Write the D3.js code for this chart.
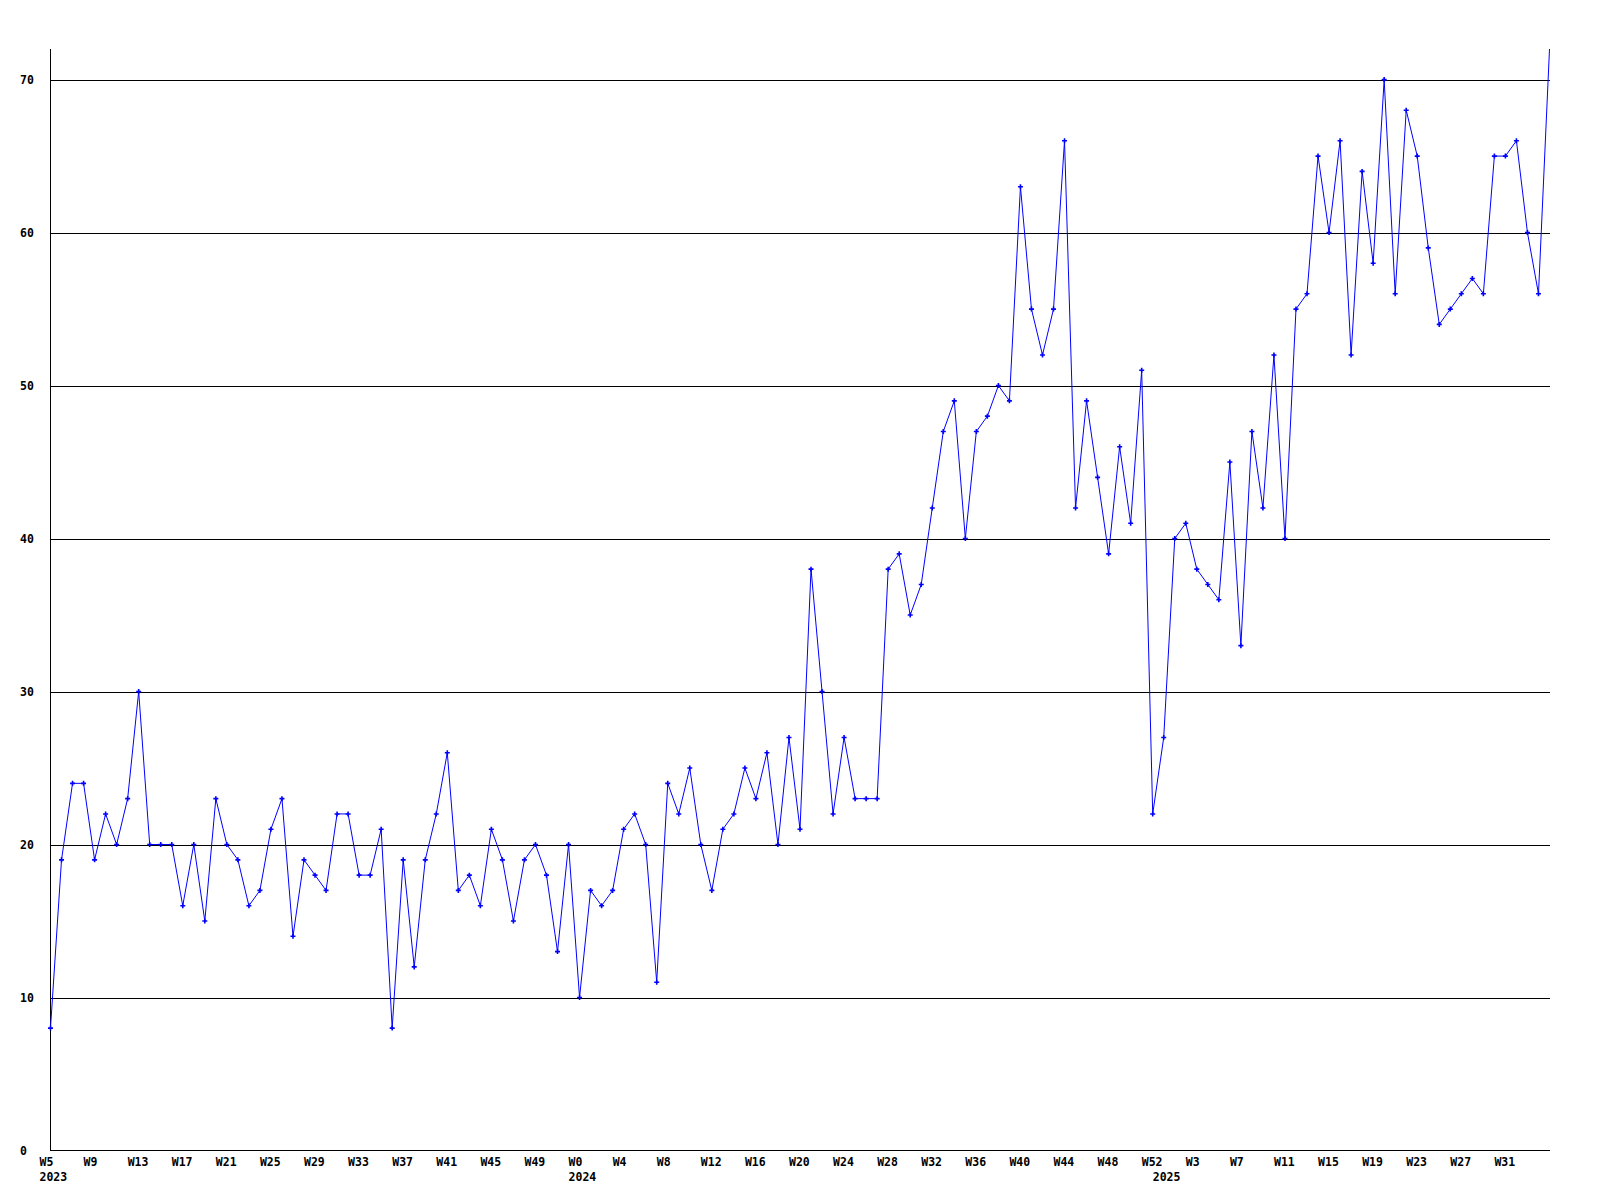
<!DOCTYPE html>
<html>
<head>
<meta charset="utf-8">
<script src="https://cdn.jsdelivr.net/npm/d3@7/dist/d3.min.js"></script>
<style>
  html, body { margin: 0; padding: 0; background: #fff; }
  svg { display: block; }
  text { font-family: "DejaVu Sans Mono", "Liberation Mono", monospace; font-weight: bold; font-size: 11.5px; fill: #000; }
</style>
</head>
<body>
<svg id="chart" width="1600" height="1200"></svg>
<script>
// ---- Data ----
const years2023Weeks = [5, 52];   // first and last week number shown for 2023
const years2024Weeks = [0, 52];
const years2025Weeks = [0, 35];

const values2023 = [8,19,24,24,19,22,20,23,30,20,20,20,16,20,15,23,20,19,16,17,21,23,14,19,18,17,22,22,18,18,21,8,19,12,19,22,26,17,18,16,21,19,15,19,20,18,13,20];
const values2024 = [10,17,16,17,21,22,20,11,24,22,25,20,17,21,22,25,23,26,20,27,21,38,30,22,27,23,23,23,38,39,35,37,42,47,49,40,47,48,50,49,63,55,52,55,66,42,49,44,39,46,41,51,22];
const values2025 = [27,40,41,38,37,36,45,33,47,42,52,40,55,56,65,60,66,52,64,58,70,56,68,65,59,54,55,56,57,56,65,65,66,60,56,72];

const xTickLabels = ["W5","W9","W13","W17","W21","W25","W29","W33","W37","W41","W45","W49",
                     "W0","W4","W8","W12","W16","W20","W24","W28","W32","W36","W40","W44","W48","W52",
                     "W3","W7","W11","W15","W19","W23","W27","W31"];
const yearLabels = ["2023","2024","2025"];
const yTicks = [0,10,20,30,40,50,60,70];
const yMax = 72;

(function () {
  // ---- Build categories ----
  const categories = [];
  [[2023, years2023Weeks, values2023],[2024, years2024Weeks, values2024],[2025, years2025Weeks, values2025]]
    .forEach(([yr, wk, vals]) => {
      vals.forEach((v, i) => categories.push({ year: String(yr), week: "W" + (wk[0] + i), value: v }));
    });
  const idxs = categories.map((d, i) => i);

  // ---- Layout ----
  const svg = d3.select("#chart");
  const pLeft = 50, pRight = 1550, pTop = 49, pBottom = 1150;

  const x = d3.scaleLinear().domain([0, categories.length - 1]).range([pLeft + 0.5, pRight - 0.5]);
  const y = d3.scaleLinear().domain([0, yMax]).range([pBottom + 0.5, pTop]);

  // gridlines
  svg.append("g").selectAll("line").data(yTicks.filter(t => t > 0)).join("line")
    .attr("x1", pLeft).attr("x2", pRight)
    .attr("y1", d => Math.round(y(d)) + 0.5).attr("y2", d => Math.round(y(d)) + 0.5)
    .attr("stroke", "#000").attr("stroke-width", 1).attr("shape-rendering", "crispEdges");

  // axes lines
  svg.append("line").attr("x1", pLeft + 0.5).attr("x2", pLeft + 0.5).attr("y1", pTop).attr("y2", pBottom + 1)
    .attr("stroke", "#000").attr("shape-rendering", "crispEdges");
  svg.append("line").attr("x1", pLeft).attr("x2", pRight).attr("y1", pBottom + 0.5).attr("y2", pBottom + 0.5)
    .attr("stroke", "#000").attr("shape-rendering", "crispEdges");

  // y labels
  svg.append("g").selectAll("text").data(yTicks).join("text")
    .attr("x", 20).attr("y", d => Math.round(y(d)))
    .attr("dy", "0.35em")
    .text(d => d);

  // x tick labels
  const tickIdx = idxs.filter(i => xTickLabels.includes(categories[i].week) && i % 4 === 0 && i < categories.length - 1);
  svg.append("g").selectAll("text").data(tickIdx).join("text")
    .attr("x", i => x(i) - 11).attr("y", 1162).attr("dy", "0.35em")
    .text(i => categories[i].week);

  // year labels at first week of each year
  const yearIdx = yearLabels.map(yr => categories.findIndex(c => c.year === yr));
  svg.append("g").selectAll("text").data(yearIdx).join("text")
    .attr("x", i => x(i) - 11).attr("y", 1177).attr("dy", "0.35em")
    .text(i => categories[i].year);

  // clips
  svg.append("clipPath").attr("id", "plotclip").append("rect")
    .attr("x", pLeft).attr("y", pTop).attr("width", pRight - pLeft + 1).attr("height", pBottom - pTop + 1);
  svg.append("clipPath").attr("id", "markclip").append("rect")
    .attr("x", pLeft - 4).attr("y", pTop + 3).attr("width", pRight - pLeft + 1).attr("height", pBottom - pTop + 4);

  const g = svg.append("g").attr("clip-path", "url(#plotclip)");

  const line = d3.line().x((d, i) => x(i)).y(d => y(d.value));
  g.append("path").datum(categories).attr("d", line)
    .attr("fill", "none").attr("stroke", "#0000ff").attr("stroke-width", 1);

  // plus markers
  const plus = "M-2.5,-0.8H-0.8V-2.5H0.8V-0.8H2.5V0.8H0.8V2.5H-0.8V0.8H-2.5Z";
  svg.append("g").attr("clip-path", "url(#markclip)")
    .selectAll("path").data(categories).join("path")
    .attr("transform", (d, i) => `translate(${x(i)},${y(d.value)})`)
    .attr("d", plus).attr("fill", "#0000ff");
})();
</script>
</body>
</html>
